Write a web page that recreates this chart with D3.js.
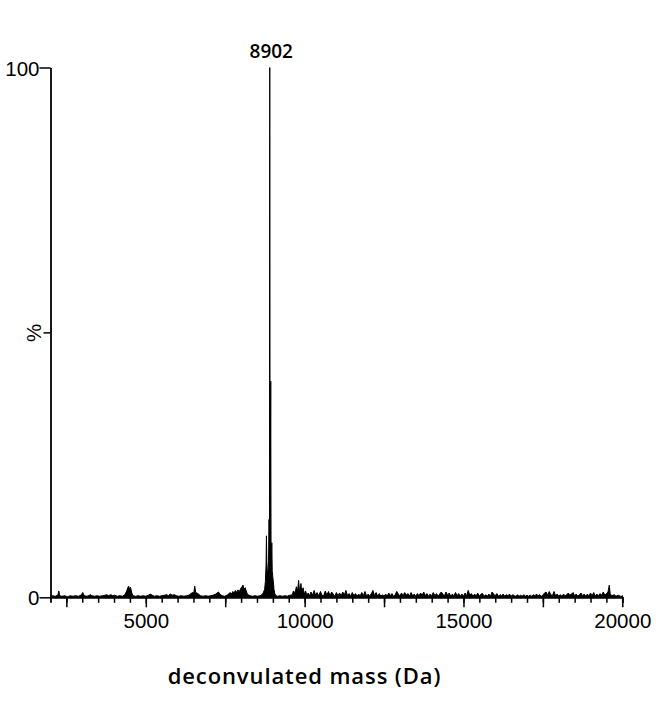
<!DOCTYPE html>
<html>
<head>
<meta charset="utf-8">
<script src="https://cdn.jsdelivr.net/npm/d3@7"></script>
<style>
  html, body { margin: 0; padding: 0; background: #fff; }
  svg { display: block; }
</style>
</head>
<body>
<svg id="chart" width="660" height="704"></svg>
<script>
// ---- data ----
const masses = [
  2000,2060,2150,2230,2262,2290,2360,2450,2540,2620,2700,2790,2880,2960,3016,3060,3150,3230,3258,3300,
  3390,3470,3550,3640,3720,3770,3830,3900,3960,4020,4100,4180,4260,4340,4400,4430,4460,4490,4520,4560,4600,
  4680,4760,4840,4920,5000,5080,5140,5200,5270,5350,5430,5510,5590,5660,5710,5770,5830,5900,5960,6040,6120,
  6200,6280,6360,6420,6470,6510,6540,6570,6610,6660,6720,6800,6880,6960,7040,7120,7200,7260,7290,7330,7400,
  7480,7560,7620,7660,7700,7740,7780,7820,7860,7900,7940,7990,8030,8060,8090,8130,8170,8210,8280,8360,8440,
  8520,8600,8660,8700,8740,8765,8785,8798,8810,8830,8850,8865,8880,8893,8902,8912,8922,8933,8943,8955,8966,
  8980,8995,9015,9035,9060,9100,9150,9220,9300,9380,9450,9530,9600,9650,9700,9740,9780,9810,9840,9885,9910,
  9950,9990,10030,10070,10110,10160,10200,10250,10300,10340,10390,10440,10500,10540,
  10600,10650,10700,10750,10800,10850,10900,10950,11000,11050,
  11100,11150,11200,11250,11300,11350,11400,11450,11500,11550,
  11600,11650,11700,11750,11800,11850,11900,11950,12000,12050,
  12100,12150,12200,12250,12300,12350,12400,12450,12500,12550,
  12600,12650,12700,12750,12800,12850,12900,12950,13000,13050,
  13100,13150,13200,13250,13300,13350,13400,13450,13500,13550,
  13600,13650,13700,13750,13800,13850,13900,13950,14000,14050,
  14100,14150,14200,14250,14300,14350,14400,14450,14500,14550,
  14600,14650,14700,14750,14800,14850,14900,14950,15000,15050,
  15100,15150,15200,15250,15300,15350,15400,15450,15500,15550,
  15600,15650,15700,15750,15800,15850,15900,15950,16000,16050,
  16100,16150,16200,16250,16300,16350,16400,16450,16500,16550,
  16600,16650,16700,16750,16800,16850,16900,16950,17000,17050,
  17100,17150,17200,17250,17300,17350,17400,17450,17500,17550,
  17600,17650,17700,17750,17800,17850,17900,17950,18000,18050,
  18100,18150,18200,18250,18300,18350,18400,18450,18500,18550,
  18600,18650,18700,18750,18800,18850,18900,18950,19000,19050,
  19100,19150,19200,19250,19300,19350,19400,19450,19500,19550,
  19590,19620,19680,19750,19800,19870,19940,20000
];
const intensity = [
  0.1,0.3,0.2,0.4,1.2,0.3,0.2,0.3,0.1,0.3,0.2,0.3,0.2,0.4,0.9,0.3,0.2,0.4,0.5,0.3,
  0.2,0.3,0.2,0.3,0.4,0.5,0.3,0.5,0.3,0.4,0.2,0.3,0.2,0.5,1.2,1.8,2.1,1.5,1.9,0.8,0.3,
  0.2,0.3,0.2,0.3,0.2,0.4,0.6,0.4,0.2,0.3,0.2,0.3,0.4,0.5,0.3,0.6,0.4,0.5,0.3,0.2,0.3,
  0.2,0.3,0.4,0.7,0.9,0.8,2.1,0.9,0.8,0.6,0.3,0.2,0.3,0.2,0.3,0.4,0.6,0.9,1.0,0.6,0.3,
  0.2,0.4,0.7,0.9,0.6,1.1,0.8,1.3,0.9,1.4,1.0,1.7,2.0,2.3,1.5,1.8,1.0,0.5,0.3,0.2,0.3,
  0.2,0.3,0.5,0.9,1.5,3.0,6.0,11.6,6.5,4.5,5.0,7.0,14.7,10,100,18,25,40.8,9,6,10.3,
  5,4,3,1.5,0.7,0.3,0.2,0.3,0.2,0.3,0.2,0.4,0.4,1.2,0.8,2.0,1.2,3.2,1.0,2.6,0.9,
  1.8,0.6,1.2,0.4,0.8,0.3,1.0,0.4,1.3,0.4,0.9,0.3,1.1,0.4,
  0.3,1.2,0.4,1.1,0.3,1.0,0.6,0.2,0.9,0.3,
  0.8,0.3,1.0,0.4,1.3,0.3,0.7,0.2,0.9,0.3,
  0.7,0.2,0.6,0.3,0.9,0.3,1.1,0.2,0.6,0.2,
  0.7,1.3,0.3,0.9,0.2,0.7,0.2,0.5,0.2,0.6,
  0.3,0.8,0.3,0.7,0.2,0.5,1.1,0.6,0.3,0.8,
  0.3,0.9,0.4,0.7,0.2,0.9,0.3,0.6,0.2,0.7,
  0.3,0.8,0.4,1.0,0.3,0.7,0.2,0.6,0.3,0.9,
  0.3,0.7,0.2,0.6,1.0,0.6,0.3,1.0,0.4,0.8,
  0.2,0.6,0.3,0.9,0.3,0.7,0.2,0.6,0.2,0.8,
  0.3,1.3,0.4,0.7,0.2,0.6,0.3,0.8,0.2,0.6,
  0.7,0.2,0.5,0.2,0.6,0.2,1.0,0.6,0.3,0.7,
  0.2,0.5,0.3,0.6,0.2,0.5,0.3,0.6,0.2,0.5,
  0.3,0.2,0.5,0.2,0.4,0.2,0.5,0.2,0.4,0.2,
  0.4,0.2,0.5,0.3,0.6,0.3,0.5,0.2,0.4,0.8,
  1.0,0.4,1.1,0.5,0.3,1.1,0.3,0.6,0.2,0.5,
  0.2,0.6,0.3,0.5,0.8,0.4,0.6,0.9,0.3,0.6,
  0.2,0.5,0.8,0.3,0.6,0.2,0.6,0.3,0.8,0.3,
  0.9,0.2,0.6,0.3,0.7,0.4,1.0,0.4,0.7,1.0,
  2.3,0.6,0.3,0.5,0.2,0.4,0.2,0.1
];
const xMajorTicks = [2500, 5000, 7500, 10000, 12500, 15000, 17500, 20000];
const xLabelTicks = [5000, 10000, 15000, 20000];
const xMinorTicks = [2500,3000,3500,4000,4500,5000,5500,6000,6500,7000,7500,8000,8500,9000,9500,10000,
  10500,11000,11500,12000,12500,13000,13500,14000,14500,15000,15500,16000,16500,17000,17500,18000,18500,19000,19500,20000];
const yTicks = [0, 50, 100];
const yTickLabels = ["0", "%", "100"];
const peakLabel = { mass: 8902, text: "8902" };
const xTitle = "deconvulated mass (Da)";

// ---- layout ----
const svg = d3.select("#chart");
const x = d3.scaleLinear().domain([2000, 20000]).range([50.5, 622.3]);
const y = d3.scaleLinear().domain([0, 100]).range([597.3, 67.5]);

const data = masses.map((m, i) => ({ m, v: intensity[i] }));

// spectrum
svg.append("path")
  .datum(data)
  .attr("d", d3.area().x(d => x(d.m)).y0(y(0)).y1(d => y(d.v)))
  .attr("fill", "#000");
svg.append("path")
  .datum(data)
  .attr("d", d3.line().x(d => x(d.m)).y(d => y(d.v)))
  .attr("fill", "none")
  .attr("stroke", "#000")
  .attr("stroke-width", 1);

// x axis
const xAxisG = svg.append("g").attr("transform", `translate(0,${y(0)})`);
xAxisG.call(d3.axisBottom(x).tickValues(xMinorTicks).tickSize(5.5).tickFormat(""));
xAxisG.append("g").call(d3.axisBottom(x).tickValues(xMajorTicks).tickSize(10).tickFormat(""));
xAxisG.selectAll(".domain").attr("stroke-width", 1.8);
xAxisG.selectAll(".tick line").attr("stroke-width", 1.5);
xAxisG.selectAll(".domain").filter((d, i) => i > 0).remove();
xAxisG.append("g").call(d3.axisBottom(x).tickValues(xLabelTicks).tickSize(0).tickPadding(16)
    .tickFormat(d3.format("d")))
  .call(g => g.select(".domain").remove())
  .selectAll("text")
  .attr("font-family", "'Liberation Sans', Arial, sans-serif")
  .attr("font-size", "20.5px")
  .attr("fill", "#000");
// end cap at 20000
xAxisG.append("line")
  .attr("x1", x(20000)).attr("x2", x(20000))
  .attr("y1", -2).attr("y2", 0)
  .attr("stroke", "#000").attr("stroke-width", 1.5);

// y axis
const yAxisG = svg.append("g").attr("transform", `translate(${x(2000)},0)`);
yAxisG.call(d3.axisLeft(y).tickValues(yTicks).tickSize(0).tickFormat(""));
yAxisG.selectAll(".domain").attr("stroke-width", 1.8);
yAxisG.selectAll(".tick").append("line")
  .attr("x1", d => d === 50 ? -7 : -11).attr("x2", 0)
  .attr("stroke", "#000").attr("stroke-width", 1.5);
yAxisG.selectAll(".tick").append("text")
  .attr("font-family", "'Liberation Sans', Arial, sans-serif")
  .attr("font-size", "20.5px")
  .attr("fill", "#000")
  .attr("text-anchor", d => d === 50 ? "middle" : "end")
  .attr("dominant-baseline", "central")
  .attr("transform", d => d === 50 ? "translate(-17,0) rotate(-90)" : "translate(-11,0)")
  .text((d, i) => yTickLabels[i]);

// peak label
svg.append("text")
  .attr("x", x(peakLabel.mass) + 1.5)
  .attr("y", 58.3)
  .attr("text-anchor", "middle")
  .attr("font-family", "'Open Sans', sans-serif")
  .attr("font-weight", 600)
  .attr("font-size", "19px")
  .attr("fill", "#000")
  .text(peakLabel.text);

// x title
svg.append("text")
  .attr("x", 304.5)
  .attr("y", 684)
  .attr("text-anchor", "middle")
  .attr("font-family", "'Open Sans', sans-serif")
  .attr("font-weight", 600)
  .attr("font-size", "22px")
  .attr("letter-spacing", "0.9px")
  .attr("fill", "#000")
  .text(xTitle);
</script>
</body>
</html>
